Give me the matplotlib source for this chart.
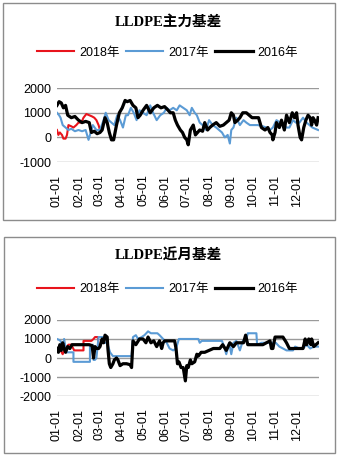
import matplotlib
matplotlib.use("Agg")
import matplotlib.pyplot as plt
from matplotlib.patches import Rectangle

# Month-start positions (day of year) and their labels
month_days = [0, 31, 59, 90, 120, 151, 181, 212, 243, 273, 304, 334]
month_labels = ["01-01", "02-01", "03-01", "04-01", "05-01", "06-01",
                "07-01", "08-01", "09-01", "10-01", "11-01", "12-01"]
series_names = ["2018年", "2017年", "2016年"]

# ---- LLDPE main-contract basis ----
main_2016_days = [
    0, 3, 6, 9, 12, 15, 20, 25, 30, 35,
    40, 45, 48, 52, 56, 60, 63, 67, 70, 73,
    76, 79, 83, 87, 91, 95, 98, 102, 106, 110,
    113, 116, 120, 125, 130, 135, 140, 145, 150, 155,
    158, 162, 165, 168, 172, 175, 178, 181, 183, 186,
    190, 193, 196, 199, 203, 206, 210, 213, 217, 222,
    227, 232, 236, 240, 243, 246, 248, 252, 255, 259,
    264, 268, 272, 278, 281, 285, 290, 294, 297, 300,
    301, 304, 306, 310, 313, 317, 320, 324, 328, 331,
    334, 336, 339, 341, 344, 347, 350, 353, 355, 357,
    359, 362, 364]
main_2016_vals = [
    1300, 1450, 1400, 1200, 1300, 900, 800, 850, 700, 600,
    650, 600, 200, 250, 150, 200, 300, 800, 600, 200,
    -100, -100, 500, 1000, 1200, 1500, 1450, 1500, 1300, 1200,
    800, 900, 1100, 1300, 1000, 1200, 1300, 1200, 1250, 1100,
    1000, 1000, 700, 500, 300, 200, 0, -100, -300, 300,
    500, 100, 200, 300, 250, 600, 300, 400, 500, 600,
    450, 500, 600, 700, 1000, 900, 600, 700, 800, 1000,
    1000, 900, 800, 800, 800, 400, 300, 400, 200, 100,
    -100, 200, 600, 400, 700, 300, 900, 600, 1000, 800,
    1000, 500, 0, -100, 400, 700, 900, 800, 500, 800,
    700, 500, 800]

main_2017_days = [
    0, 3, 5, 8, 12, 16, 20, 25, 30, 35,
    40, 44, 47, 50, 55, 60, 65, 68, 72, 76,
    80, 84, 88, 92, 96, 99, 103, 107, 111, 115,
    120, 125, 130, 134, 139, 144, 149, 153, 157, 162,
    167, 171, 176, 181, 185, 188, 192, 195, 199, 203,
    208, 212, 217, 222, 226, 230, 234, 238, 241, 243,
    246, 250, 255, 260, 264, 269, 273, 280, 287, 292,
    297, 301, 306, 311, 315, 320, 324, 329, 333, 338,
    343, 348, 352, 356, 360, 364]
main_2017_vals = [
    1000, 900, 800, 500, 400, 300, 350, 250, 300, 250,
    300, -100, 200, 500, 300, 300, 700, 1000, 700, 600,
    500, 900, 700, 400, 900, 900, 1200, 1000, 700, 1100,
    1000, 900, 1300, 1000, 700, 900, 1000, 1200, 1100, 1200,
    1100, 1300, 1200, 1100, 900, 1200, 1000, 900, 600, 500,
    300, 700, 500, 400, 300, 200, 0, 100, -250, 300,
    400, 800, 500, 700, 600, 500, 500, 500, 450, 400,
    300, 400, 700, 600, 500, 400, 400, 700, 600, 600,
    800, 600, 500, 400, 350, 300]

main_2018_days = [0, 2, 4, 7, 9, 12, 14, 16, 20, 23, 27,
                  30, 34, 37, 41, 45, 49, 52, 55, 58, 60]
main_2018_vals = [300, 100, 200, 100, -50, -50, 100, 500, 450, 400, 500,
                  600, 600, 800, 950, 900, 850, 800, 700, 500, 300]

# ---- LLDPE nearby-month basis ----
near_2016_days = [
    0, 2, 4, 6, 8, 10, 12, 15, 18, 21,
    25, 30, 35, 40, 45, 49, 51, 53, 55, 58,
    60, 63, 65, 67, 70, 71, 73, 75, 78, 80,
    83, 85, 88, 92, 97, 102, 104, 106, 110, 115,
    120, 124, 127, 131, 135, 139, 143, 146, 148, 150,
    153, 158, 164, 166, 168, 170, 173, 176, 179, 181,
    183, 186, 188, 192, 195, 197, 201, 206, 212, 218,
    227, 231, 236, 241, 246, 250, 255, 260, 263, 266,
    268, 275, 283, 287, 292, 297, 299, 301, 304, 309,
    315, 320, 324, 330, 337, 343, 346, 348, 351, 354,
    355, 358, 361, 364]
near_2016_vals = [
    500, 300, 700, 400, 800, 500, 300, 600, 500, 700,
    700, 700, 700, 700, 700, 650, 0, 600, 500, 500,
    600, 1000, 800, 1200, 1100, 500, -300, -500, -300, -100,
    0, -100, -400, -300, -300, -350, -500, 900, 700, 1000,
    1000, 800, 1100, 800, 900, 600, 900, 500, 800, 900,
    900, 900, 900, 500, -300, -200, -500, -500, -1200, -400,
    -500, -100, -300, -200, 200, 100, 300, 300, 400, 500,
    500, 700, 400, 800, 600, 800, 800, 800, 1200, 700,
    700, 700, 700, 700, 800, 900, 500, 500, 1100, 1100,
    1100, 800, 500, 500, 500, 500, 1000, 700, 1000, 700,
    1000, 600, 700, 800]

near_2017_days = [
    0, 3, 5, 8, 10, 13, 16, 20, 23, 23,
    46, 46, 50, 51, 53, 55, 58, 60, 64, 66,
    70, 74, 78, 80, 104, 106, 110, 113, 118, 122,
    127, 131, 135, 140, 143, 148, 153, 157, 162, 166,
    170, 172, 197, 199, 202, 230, 233, 236, 240, 243,
    246, 250, 255, 259, 264, 266, 278, 279, 285, 295,
    305, 310, 315, 320, 329, 332, 338, 343, 348, 353,
    358, 364]
near_2017_vals = [
    1000, 950, 900, 500, 1000, 300, 300, 300, 300, -200,
    -200, 600, 700, -100, -100, 0, 1100, 1100, 1100, 800,
    800, 300, 100, 100, 100, 1100, 1200, 1000, 1100, 1200,
    1400, 1300, 1300, 1300, 1200, 1000, 800, 500, 400, 500,
    1000, 1000, 1000, 800, 900, 900, 600, 200, 800, 200,
    800, 900, 400, 900, 1000, 1300, 1300, 700, 800, 800,
    800, 600, 500, 400, 400, 600, 500, 500, 700, 500,
    600, 600]

near_2018_days = [0, 3, 5, 8, 10, 12, 16, 20, 24, 27,
                  33, 37, 37, 43, 48, 51, 53, 57, 58]
near_2018_vals = [500, 400, 400, 200, 400, 500, 700, 700, 400, 400,
                  400, 400, 900, 900, 900, 1000, 1100, 1100, 700]

RED = "#E8141C"
BLUE = "#5B9BD5"
BLACK = "#000000"
GRID = "#9A9A9A"

TEXT_FONT = ["Liberation Sans", "Noto Sans CJK SC"]
TITLE_FONT = ["Liberation Serif", "Noto Sans CJK SC"]

fig = plt.figure(figsize=(3.37, 4.59), dpi=100)
fig.patch.set_facecolor("white")


def panel(rect_frame, rect_axes, title, title_y, legend_y, ylim, yticks,
          red, blue, black):
    fig.patches.append(Rectangle(rect_frame[:2], rect_frame[2], rect_frame[3],
                                 transform=fig.transFigure, fill=False,
                                 edgecolor="#8C8C8C", linewidth=1.0))
    ax = fig.add_axes(rect_axes)
    ax.set_facecolor("none")
    l1, = ax.plot(red[0], red[1], color=RED, lw=1.5, zorder=3)
    l2, = ax.plot(blue[0], blue[1], color=BLUE, lw=1.5, zorder=3)
    l3, = ax.plot(black[0], black[1], color=BLACK, lw=2.3, zorder=4)
    ax.set_xlim(0, 365)
    ax.set_ylim(*ylim)
    ax.set_yticks(yticks)
    ax.set_yticklabels([str(v) for v in yticks], fontsize=9,
                       family=TEXT_FONT)
    ax.set_xticks(month_days)
    ax.set_xticklabels(month_labels, rotation=90, fontsize=9,
                       family=TEXT_FONT)
    ax.tick_params(length=0, pad=4)
    ax.tick_params(axis="x", pad=9)
    for s in ax.spines.values():
        s.set_visible(False)
    ax.grid(axis="y", color=GRID, lw=1.0)
    ax.set_axisbelow(True)
    fig.text(0.5, title_y, title, ha="center", va="center", fontsize=10.5,
             fontweight="bold", family=TITLE_FONT)
    fig.legend([l1, l2, l3], series_names, loc="center",
               bbox_to_anchor=(0.497, legend_y), ncol=3, frameon=False,
               prop={"family": TEXT_FONT, "size": 9}, handlelength=3.0,
               handletextpad=0.4, columnspacing=0.5, borderpad=0)
    return ax


panel((0.009, 0.521, 0.985, 0.473), (0.169, 0.647, 0.777, 0.161),
      "LLDPE主力基差", 0.952, 0.885, (-1000, 2000), [-1000, 0, 1000, 2000],
      (main_2018_days, main_2018_vals), (main_2017_days, main_2017_vals),
      (main_2016_days, main_2016_vals))

panel((0.012, 0.013, 0.982, 0.471), (0.169, 0.137, 0.777, 0.166),
      "LLDPE近月基差", 0.444, 0.370, (-2000, 2000),
      [-2000, -1000, 0, 1000, 2000],
      (near_2018_days, near_2018_vals), (near_2017_days, near_2017_vals),
      (near_2016_days, near_2016_vals))

fig.savefig("out.png", dpi=100, facecolor="white")
